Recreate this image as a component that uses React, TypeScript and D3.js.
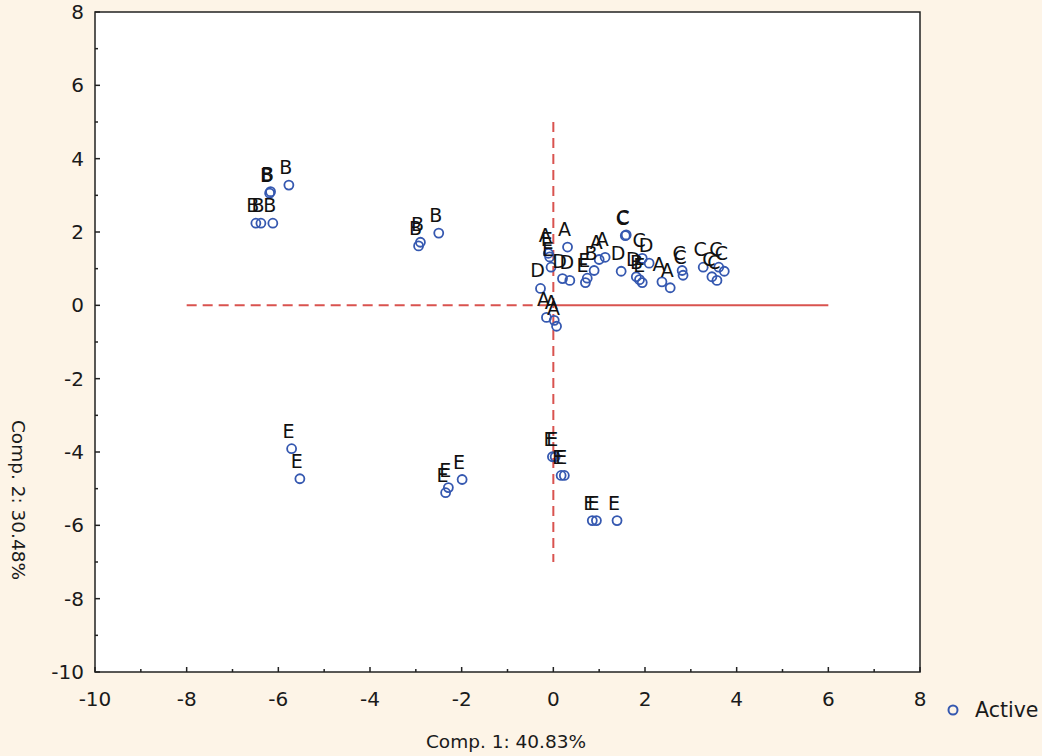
import React, { useEffect, useRef } from 'react';
import * as d3 from 'd3';

// PCA scores: Comp. 1 (x) and Comp. 2 (y), with sample group labels
const comp1: number[] = [
  -6.19, -6.17, -5.77, -6.49, -6.38, -6.12,
  -2.94, -2.90, -2.50,
  -0.11, -0.08, -0.05, 0.31, -0.28, -0.15, 0.02, 0.07,
  0.20, 0.36, 0.70, 0.74, 0.89, 1.00, 1.13,
  1.48, 1.57, 1.59, 1.81, 1.88, 1.94, 1.94, 2.09, 2.37, 2.55, 2.81, 2.83,
  3.27, 3.46, 3.57, 3.61, 3.73,
  -5.71, -5.53, -2.35, -2.29, -1.99,
  -0.02, 0.04, 0.17, 0.24, 0.85, 0.94, 1.39,
];
const comp2: number[] = [
  3.06, 3.10, 3.28, 2.24, 2.24, 2.24,
  1.62, 1.72, 1.97,
  1.42, 1.32, 1.04, 1.59, 0.46, -0.33, -0.41, -0.57,
  0.73, 0.68, 0.62, 0.74, 0.95, 1.25, 1.31,
  0.93, 1.90, 1.92, 0.78, 0.70, 0.62, 1.28, 1.15, 0.64, 0.48, 0.95, 0.82,
  1.04, 0.78, 0.68, 1.04, 0.93,
  -3.91, -4.73, -5.11, -4.97, -4.75,
  -4.13, -4.13, -4.64, -4.64, -5.87, -5.87, -5.87,
];
const groups: string[] = [
  'B', 'B', 'B', 'B', 'B', 'B',
  'B', 'B', 'B',
  'A', 'E', 'E', 'A', 'D', 'A', 'A', 'A',
  'D', 'D', 'E', 'E', 'B', 'A', 'A',
  'D', 'C', 'C', 'D', 'B', 'E', 'C', 'D', 'A', 'A', 'C', 'C',
  'C', 'C', 'C', 'C', 'C',
  'E', 'E', 'E', 'E', 'E',
  'E', 'E', 'E', 'E', 'E', 'E', 'E',
];

const tickValues: number[] = [-10, -8, -6, -4, -2, 0, 2, 4, 6, 8];
const xTitle = 'Comp. 1: 40.83%';
const yTitle = 'Comp. 2: 30.48%';
const legendLabel = 'Active';

const W = 1042;
const H = 756;
const FONT = 'DejaVu Sans, Verdana, sans-serif';
const BLUE = '#3558b0';
const RED = '#d9534f';

const App: React.FC = () => {
  const svgRef = useRef<SVGSVGElement>(null);

  useEffect(() => {
    if (!svgRef.current) return;
    const svg = d3.select(svgRef.current);
    svg.selectAll('*').remove();

    const x = d3.scaleLinear().domain([-10, 8]).range([95, 920]);
    const y = d3.scaleLinear().domain([-10, 8]).range([672, 12]);

    // background
    svg.append('rect').attr('width', W).attr('height', H).attr('fill', '#fdf4e7');
    svg
      .append('rect')
      .attr('x', x(-10))
      .attr('y', y(8))
      .attr('width', x(8) - x(-10))
      .attr('height', y(-10) - y(8))
      .attr('fill', '#ffffff');

    // ticks (inward) and labels
    const minor = d3.range(-10, 9, 1);
    const g = svg.append('g');
    minor.forEach((v) => {
      const len = v % 2 === 0 ? 5 : 3;
      g.append('line')
        .attr('x1', x(v)).attr('x2', x(v))
        .attr('y1', y(-10)).attr('y2', y(-10) - len)
        .attr('stroke', '#222').attr('stroke-width', 1.5);
      g.append('line')
        .attr('x1', x(-10)).attr('x2', x(-10) + len)
        .attr('y1', y(v)).attr('y2', y(v))
        .attr('stroke', '#222').attr('stroke-width', 1.5);
    });

    tickValues.forEach((v) => {
      g.append('text')
        .attr('x', x(v))
        .attr('y', 706)
        .attr('text-anchor', 'middle')
        .attr('font-family', FONT)
        .attr('font-size', 20)
        .attr('fill', '#1a1a1a')
        .text(v);
      g.append('text')
        .attr('x', 84)
        .attr('y', y(v) + 7)
        .attr('text-anchor', 'end')
        .attr('font-family', FONT)
        .attr('font-size', 20)
        .attr('fill', '#1a1a1a')
        .text(v);
    });

    // reference lines
    const ref = svg.append('g').attr('stroke', RED).attr('stroke-width', 2).attr('fill', 'none');
    ref.append('line')
      .attr('x1', x(-8)).attr('x2', x(0))
      .attr('y1', y(0)).attr('y2', y(0))
      .attr('stroke-dasharray', '10,6');
    ref.append('line')
      .attr('x1', x(0)).attr('x2', x(6))
      .attr('y1', y(0)).attr('y2', y(0));
    ref.append('line')
      .attr('x1', x(0)).attr('x2', x(0))
      .attr('y1', y(5)).attr('y2', y(-7))
      .attr('stroke-dasharray', '10,6');

    // points
    const data = comp1.map((v, i) => ({ c1: v, c2: comp2[i], label: groups[i] }));
    svg
      .append('g')
      .selectAll('circle')
      .data(data)
      .enter()
      .append('circle')
      .attr('cx', (d) => x(d.c1))
      .attr('cy', (d) => y(d.c2))
      .attr('r', 4.5)
      .attr('fill', 'none')
      .attr('stroke', BLUE)
      .attr('stroke-width', 1.8);

    svg
      .append('g')
      .selectAll('text')
      .data(data)
      .enter()
      .append('text')
      .attr('x', (d) => x(d.c1) - 3)
      .attr('y', (d) => y(d.c2) - 11)
      .attr('text-anchor', 'middle')
      .attr('font-family', FONT)
      .attr('font-size', 19)
      .attr('fill', '#111')
      .text((d) => d.label);

    // frame
    svg
      .append('rect')
      .attr('x', x(-10))
      .attr('y', y(8))
      .attr('width', x(8) - x(-10))
      .attr('height', y(-10) - y(8))
      .attr('fill', 'none')
      .attr('stroke', '#222')
      .attr('stroke-width', 1.5);

    // axis titles
    svg.append('text')
      .attr('x', 506)
      .attr('y', 748)
      .attr('text-anchor', 'middle')
      .attr('font-family', FONT)
      .attr('font-size', 18.5)
      .attr('fill', '#1a1a1a')
      .text(xTitle);
    svg.append('text')
      .attr('transform', `translate(12,500) rotate(90)`)
      .attr('text-anchor', 'middle')
      .attr('font-family', FONT)
      .attr('font-size', 18.5)
      .attr('fill', '#1a1a1a')
      .text(yTitle);

    // legend
    svg.append('circle')
      .attr('cx', 953).attr('cy', 710).attr('r', 4.5)
      .attr('fill', 'none').attr('stroke', BLUE).attr('stroke-width', 2);
    svg.append('text')
      .attr('x', 975).attr('y', 717)
      .attr('font-family', FONT)
      .attr('font-size', 20.5)
      .attr('fill', '#1a1a1a')
      .text(legendLabel);
  }, []);

  return (
    <div style={{ position: 'absolute', left: 0, top: 0 }}>
      <svg ref={svgRef} width={W} height={H} style={{ display: 'block' }} />
    </div>
  );
};

export default App;
